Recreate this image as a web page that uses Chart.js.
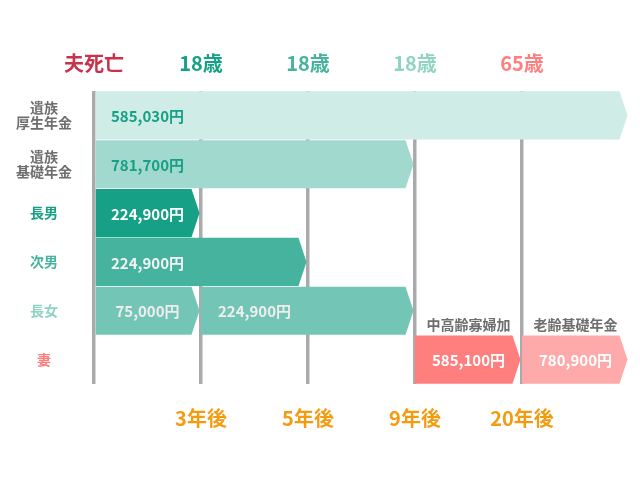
<!DOCTYPE html>
<html><head><meta charset="utf-8">
<script src="https://cdn.jsdelivr.net/npm/chart.js@4"></script>
<style>html,body{margin:0;padding:0;background:#fff}</style>
</head><body>
<canvas id="c" width="640" height="480"></canvas>
<script>
const categories = [['遺族','厚生年金'], ['遺族','基礎年金'], '長男', '次男', '長女', '妻'];
const firstStart = [0, 0, 0, 0, 0, 3];
const firstEnd = [5, 3, 1, 2, 1, 4];
const firstAmounts = ['585,030円', '781,700円', '224,900円', '224,900円', '75,000円', '585,100円'];
const firstCaptions = [null, null, null, null, null, '中高齢寡婦加'];
const secondStart = [null, null, null, null, 1, 4];
const secondEnd = [null, null, null, null, 3, 5];
const secondAmounts = [null, null, null, null, '224,900円', '780,900円'];
const secondCaptions = [null, null, null, null, null, '老齢基礎年金'];
const milestoneLabels = ['夫死亡', '18歳', '18歳', '18歳', '65歳'];
const yearLabels = ['', '3年後', '5年後', '9年後', '20年後'];

// styles
const firstColors = ['#d0ece7', '#a2d9ce', '#16a085', '#45b39d', '#73c6b6', '#ff7f7f'];
const secondColors = [null, null, null, null, '#73c6b6', '#ffaaaa'];
const firstTextColors = ['#16a085', '#16a085', '#ffffff', '#f4f4f4', '#eeeeee', '#ffffff'];
const secondTextColors = [null, null, null, null, '#eeeeee', '#ffffff'];
const rowLabelColors = ['#6e6e6e', '#6e6e6e', '#16a085', '#45b39d', '#8fd3c3', '#ff7f7f'];
const milestoneColors = ['#c8334b', '#16a085', '#45b39d', '#8fd3c3', '#ff7f7f'];
const FONT = "'Noto Sans CJK JP', 'Noto Sans', sans-serif";

Chart.defaults.font.family = FONT;

const arrowPlugin = {
  id: 'arrows',
  beforeDatasetDraw(chart, args) {
    const ctx = chart.ctx;
    const ds = chart.data.datasets[args.index];
    args.meta.data.forEach((el, i) => {
      if (!ds.data[i]) return;
      const p = el.getProps(['x', 'base', 'y', 'height'], true);
      const top = p.y - p.height / 2, bot = p.y + p.height / 2;
      const tipX = p.x - 1.5, bodyEnd = tipX - 8;
      ctx.save();
      ctx.fillStyle = ds.backgroundColor[i];
      ctx.beginPath();
      ctx.moveTo(p.base, top);
      ctx.lineTo(bodyEnd, top);
      ctx.lineTo(tipX, p.y);
      ctx.lineTo(bodyEnd, bot);
      ctx.lineTo(p.base, bot);
      ctx.closePath();
      ctx.fill();
      ctx.restore();
    });
    return false;
  },
  afterDatasetsDraw(chart) {
    const ctx = chart.ctx;
    const xs = chart.scales.x;
    chart.data.datasets.forEach((ds, di) => {
      const meta = chart.getDatasetMeta(di);
      meta.data.forEach((el, i) => {
        const v = ds.data[i];
        if (!v) return;
        const p = el.getProps(['y', 'height'], true);
        const cx = xs.getPixelForValue(v[0] + 0.5);
        ctx.save();
        ctx.textAlign = 'center';
        ctx.textBaseline = 'middle';
        if (ds.amounts[i]) {
          ctx.font = 'bold 15px ' + FONT;
          ctx.fillStyle = ds.textColors[i];
          ctx.fillText(ds.amounts[i], cx, p.y + 1);
        }
        if (ds.captions[i]) {
          ctx.font = 'bold 14px ' + FONT;
          ctx.fillStyle = '#6e6e6e';
          ctx.fillText(ds.captions[i], cx, p.y - p.height / 2 - 11);
        }
        ctx.restore();
      });
    });
  }
};

new Chart(document.getElementById('c'), {
  type: 'bar',
  data: {
    labels: categories,
    datasets: [
      {
        data: firstStart.map((s, i) => [s, firstEnd[i]]),
        backgroundColor: firstColors,
        amounts: firstAmounts, captions: firstCaptions, textColors: firstTextColors,
        grouped: false, barPercentage: 0.985, categoryPercentage: 1
      },
      {
        data: secondStart.map((s, i) => s === null ? null : [s, secondEnd[i]]),
        backgroundColor: secondColors,
        amounts: secondAmounts, captions: secondCaptions, textColors: secondTextColors,
        grouped: false, barPercentage: 0.985, categoryPercentage: 1
      }
    ]
  },
  options: {
    indexAxis: 'y',
    responsive: false,
    animation: false,
    devicePixelRatio: 1,
    layout: { padding: { left: 0, right: 11, top: 0, bottom: 0 } },
    plugins: { legend: { display: false }, tooltip: { enabled: false } },
    scales: {
      x: {
        type: 'linear', position: 'bottom', min: 0, max: 5, z: 1,
        afterFit(s) { s.height = 96; s.paddingRight = 0; },
        border: { display: false },
        grid: {
          drawTicks: false,
          lineWidth: 3.5,
          color: (c) => (c.tick && c.tick.value === 5) ? 'rgba(0,0,0,0)' : '#aaaaaa'
        },
        ticks: {
          stepSize: 1, padding: 22, maxRotation: 0,
          color: '#f39c12',
          font: { size: 20, weight: 'bold' },
          callback: (v) => yearLabels[v] || ''
        }
      },
      x2: {
        type: 'linear', position: 'top', min: 0, max: 5, axis: 'x',
        afterFit(s) { s.height = 91; s.paddingRight = 0; },
        border: { display: false },
        grid: { display: false, drawTicks: false },
        ticks: {
          stepSize: 1, padding: 16, maxRotation: 0,
          color: (c) => milestoneColors[c.index] || '#000',
          font: { size: 20, weight: 'bold' },
          callback: (v) => milestoneLabels[v] || ''
        }
      },
      y: {
        afterFit(s) { s.width = 94; },
        border: { display: false },
        grid: { display: false, drawTicks: false },
        ticks: {
          crossAlign: 'center', padding: 22,
          color: (c) => rowLabelColors[c.index],
          font: { size: 14, weight: 'bold', lineHeight: 1.1 }
        }
      }
    }
  },
  plugins: [arrowPlugin]
});
</script>
</body></html>
